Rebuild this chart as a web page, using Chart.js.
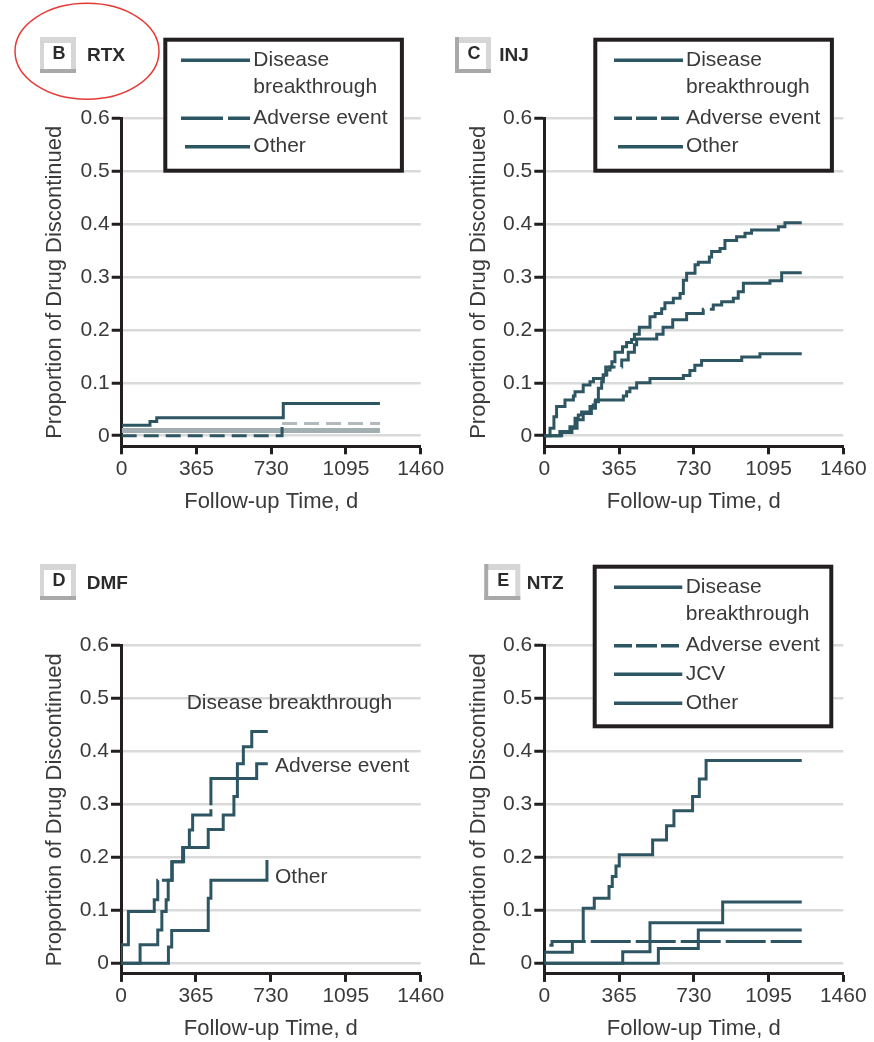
<!DOCTYPE html>
<html>
<head>
<meta charset="utf-8">
<script src="https://cdn.jsdelivr.net/npm/chart.js@4.4.1/dist/chart.umd.min.js"></script>
<style>
  html, body { margin: 0; padding: 0; background: #fff; }
  #page { position: relative; width: 874px; height: 1042px; overflow: hidden; }
  canvas { position: absolute; }
</style>
</head>
<body>
<div id="page">
  <canvas id="rtx" width="447" height="521" style="left:0;top:0"></canvas>
  <canvas id="inj" width="434" height="521" style="left:440px;top:0"></canvas>
  <canvas id="dmf" width="447" height="521" style="left:0;top:521px"></canvas>
  <canvas id="ntz" width="434" height="521" style="left:440px;top:521px"></canvas>
</div>
<script>
// axis ticks shared by all four panels
const xTicks = [0, 365, 730, 1095, 1460];
const yTicks = [0, 0.1, 0.2, 0.3, 0.4, 0.5, 0.6];

// B - RTX
const rtxDbDays = [0, 138, 171, 789, 1261];
const rtxDbProp = [0.020, 0.027, 0.034, 0.061, 0.061];
const rtxAeDays = [0, 783, 1261];
const rtxAeProp = [0, 0.023, 0.023];
const rtxOtherDays = [0, 1261];
const rtxOtherProp = [0.010, 0.010];

// C - INJ
const injDbDays = [0, 28, 47, 60, 101, 142, 150, 190, 223, 240, 288, 300, 330, 345, 382, 402, 426, 440, 464, 516, 541, 573, 589, 630, 663, 679, 695, 736, 752, 806, 817, 858, 882, 939, 980, 1012, 1143, 1175, 1257];
const injDbProp = [0, 0.014, 0.036, 0.055, 0.0675, 0.075, 0.083, 0.096, 0.102, 0.108, 0.115, 0.13, 0.14, 0.158, 0.168, 0.176, 0.182, 0.192, 0.205, 0.225, 0.231, 0.24, 0.2515, 0.26, 0.269, 0.294, 0.307, 0.323, 0.328, 0.338, 0.348, 0.354, 0.369, 0.376, 0.3825, 0.389, 0.395, 0.4026, 0.4026];
const injAeDays = [0, 76, 125, 150, 166, 182, 223, 239, 248, 264, 280, 288, 305, 321, 378, 410, 440, 451, 549, 580, 627, 695, 776, 825, 866, 923, 947, 972, 1102, 1159, 1257];
const injAeProp = [0, 0.008, 0.017, 0.033, 0.039, 0.045, 0.055, 0.058, 0.064, 0.0895, 0.102, 0.115, 0.124, 0.13, 0.143, 0.158, 0.172, 0.183, 0.192, 0.205, 0.219, 0.231, 0.239, 0.247, 0.253, 0.26, 0.272, 0.288, 0.293, 0.308, 0.308];
const injOtherDays = [0, 85, 135, 160, 190, 230, 250, 386, 402, 418, 451, 516, 679, 711, 735, 768, 964, 1053, 1257];
const injOtherProp = [0, 0.006, 0.014, 0.030, 0.042, 0.052, 0.0675, 0.075, 0.083, 0.09, 0.1, 0.108, 0.114, 0.1235, 0.133, 0.142, 0.1486, 0.155, 0.155];

// D - DMF
const dmfDbDays = [0, 93, 179, 199, 220, 230, 247, 300, 425, 498, 550, 567, 596, 637, 715];
const dmfDbProp = [0, 0.035, 0.063, 0.098, 0.12, 0.157, 0.192, 0.219, 0.253, 0.28, 0.315, 0.377, 0.409, 0.438, 0.438];
const dmfAeDays = [0, 0, 36, 162, 179, 250, 305, 333, 349, 438, 661, 715];
const dmfAeProp = [0, 0.035, 0.098, 0.12, 0.157, 0.192, 0.219, 0.252, 0.28, 0.349, 0.377, 0.377];
const dmfOtherDays = [0, 231, 247, 425, 438, 711];
const dmfOtherProp = [0, 0.031, 0.062, 0.123, 0.157, 0.195];

// E - NTZ
const ntzDbDays = [0, 0, 137, 190, 244, 316, 332, 350, 366, 529, 597, 633, 724, 757, 790, 1257];
const ntzDbProp = [0, 0.021, 0.041, 0.104, 0.123, 0.145, 0.164, 0.184, 0.205, 0.233, 0.26, 0.288, 0.315, 0.348, 0.383, 0.383];
const ntzAeDays = [25, 38, 1257];
const ntzAeProp = [0.034, 0.041, 0.041];
const ntzJcvDays = [0, 383, 516, 871, 1257];
const ntzJcvProp = [0, 0.022, 0.0767, 0.116, 0.116];
const ntzOtherDays = [0, 557, 752, 1257];
const ntzOtherProp = [0, 0.028, 0.063, 0.063];

const lineColor = '#2d5562';
const inkColor = '#231f20';
const textColor = '#3a3a3a';
const family = "'Liberation Sans', Arial, sans-serif";

// draws panel badge, legend box, inline notes and the red ellipse
const decorPlugin = {
  id: 'decor',
  afterDraw(chart, args, o) {
    const ctx = chart.ctx;
    ctx.save();
    ctx.translate(-o.ox, -o.oy);

    if (o.ellipse) {
      const e = o.ellipse;
      ctx.beginPath();
      ctx.ellipse(e.cx, e.cy, e.rx, e.ry, 0, 0, Math.PI * 2);
      ctx.strokeStyle = '#e53935';
      ctx.lineWidth = 1.5;
      ctx.stroke();
    }

    // badge with panel letter
    const b = o.badge;
    ctx.fillStyle = '#d6d6d6';
    ctx.fillRect(b.x, b.y, 36, 36);
    ctx.fillStyle = '#a9a9a9';
    ctx.fillRect(b.x, b.y + 32, 36, 4);
    if (b.darkLeft) ctx.fillRect(b.x, b.y, 4, 36);
    ctx.fillStyle = '#fff';
    ctx.fillRect(b.x + 4, b.y + 6, 27, 26);
    ctx.fillStyle = '#2b2b2b';
    ctx.textBaseline = 'middle';
    ctx.textAlign = 'center';
    ctx.font = 'bold 18px ' + family;
    ctx.fillText(b.letter, b.x + 19, b.y + 17);
    ctx.textAlign = 'left';
    ctx.font = 'bold 19px ' + family;
    ctx.fillText(b.name, b.nameX, b.nameY);

    if (o.legend) {
      const L = o.legend;
      ctx.fillStyle = '#fff';
      ctx.fillRect(L.x, L.y, L.w, L.h);
      ctx.strokeStyle = inkColor;
      ctx.lineWidth = 4;
      ctx.strokeRect(L.x + 2, L.y + 2, L.w - 4, L.h - 4);
      ctx.font = '21px ' + family;
      ctx.textAlign = 'left';
      ctx.textBaseline = 'middle';
      L.items.forEach(it => {
        ctx.beginPath();
        ctx.setLineDash(it.dash || []);
        ctx.strokeStyle = lineColor;
        ctx.lineWidth = 3.5;
        ctx.moveTo(it.x0 || L.x0, it.lineY);
        ctx.lineTo(L.x1, it.lineY);
        ctx.stroke();
        ctx.setLineDash([]);
        ctx.fillStyle = textColor;
        it.text.forEach((t, k) => ctx.fillText(t, L.textX, it.ys[k]));
      });
    }

    if (o.notes) {
      ctx.font = '21px ' + family;
      ctx.textAlign = 'left';
      ctx.textBaseline = 'middle';
      ctx.fillStyle = textColor;
      o.notes.forEach(n => ctx.fillText(n.text, n.x, n.y));
    }
    ctx.restore();
  }
};

function series(label, days, prop, extra) {
  return Object.assign({
    label: label,
    data: days.map((d, i) => ({ x: d, y: prop[i] })),
    borderColor: lineColor,
    borderWidth: 3,
    stepped: true,
    pointRadius: 0,
    fill: false,
    borderJoinStyle: 'miter'
  }, extra || {});
}

function makeChart(id, geo, datasets, decor) {
  const canvas = document.getElementById(id);
  const W = canvas.width, H = canvas.height;
  const font = { family: family, size: 21 };
  const titleFont = { family: family, size: 22 };
  return new Chart(canvas, {
    type: 'line',
    data: { datasets: datasets },
    options: {
      responsive: false,
      animation: false,
      devicePixelRatio: 1,
      layout: { autoPadding: false, padding: { left: 0, top: geo.top, right: W - geo.right, bottom: 0 } },
      plugins: { legend: { display: false }, tooltip: { enabled: false }, decor: decor },
      scales: {
        x: {
          type: 'linear', min: 0, max: 1460,
          afterBuildTicks: a => { a.ticks = xTicks.map(v => ({ value: v })); },
          afterFit: s => { s.height = H - geo.bottom; },
          grid: { drawOnChartArea: false, drawTicks: true, tickLength: 8, tickWidth: 3, tickColor: inkColor },
          border: { display: true, color: inkColor, width: 3 },
          ticks: { font: font, color: textColor, padding: 2, maxRotation: 0, autoSkip: false, callback: v => String(v) },
          title: { display: true, text: 'Follow-up Time, d', font: titleFont, color: textColor, padding: { top: 0, bottom: geo.xTitlePad } }
        },
        y: {
          type: 'linear', min: -0.02, max: 0.6,
          afterBuildTicks: a => { a.ticks = yTicks.map(v => ({ value: v })); },
          afterFit: s => { s.width = geo.left; },
          grid: { color: '#dadada', lineWidth: 2.5, tickLength: 10, tickWidth: 3, tickColor: inkColor },
          border: { display: true, color: inkColor, width: 3 },
          ticks: { font: font, color: textColor, padding: 2, callback: v => (v === 0 ? '0' : v.toFixed(1)) },
          title: { display: true, text: 'Proportion of Drug Discontinued', font: titleFont, color: textColor, padding: { top: geo.yTitlePad, bottom: 0 } }
        }
      }
    },
    plugins: [decorPlugin]
  });
}

const legend3 = (x, x0, x1, textX, aeDash) => ({
  x: x, y: 37.7, w: 240.6, h: 135, x0: x0, x1: x1, textX: textX,
  items: [
    { text: ['Disease', 'breakthrough'], ys: [60, 87], lineY: 60.3 },
    { text: ['Adverse event'], ys: [118.3], lineY: 118.3, dash: aeDash },
    { text: ['Other'], ys: [146.7], lineY: 146.7, x0: x0 + 4 }
  ]
});

// B - RTX
makeChart('rtx',
  { left: 121.7, top: 118.3, right: 420.7, bottom: 446.3, xTitlePad: 6.1, yTitlePad: 41.8 },
  [
    series('Disease breakthrough', rtxDbDays, rtxDbProp),
    series('Adverse event', rtxAeDays, rtxAeProp, {
      borderDash: [15, 7],
      segment: { borderColor: c => (c.p0.parsed.x >= 783 ? '#b3babd' : undefined) }
    }),
    series('Other', rtxOtherDays, rtxOtherProp, { borderColor: '#a3aeb2', borderWidth: 5 })
  ],
  {
    ox: 0, oy: 0,
    ellipse: { cx: 87, cy: 51.3, rx: 72, ry: 48 },
    badge: { x: 40, y: 37, letter: 'B', name: 'RTX', nameX: 87, nameY: 56 },
    legend: legend3(163.3, 181, 250, 253.3, [42, 5])
  });

// C - INJ
makeChart('inj',
  { left: 104.3, top: 118.3, right: 403.3, bottom: 446.3, xTitlePad: 6.1, yTitlePad: 25.8 },
  [
    series('Disease breakthrough', injDbDays, injDbProp),
    series('Adverse event', injAeDays, injAeProp, { borderDash: [140, 6] }),
    series('Other', injOtherDays, injOtherProp)
  ],
  {
    ox: 440, oy: 0,
    badge: { x: 455, y: 37, letter: 'C', name: 'INJ', nameX: 499.3, nameY: 56, darkLeft: true },
    legend: legend3(593.3, 614, 683, 686, [18, 4, 21, 4])
  });

// D - DMF
makeChart('dmf',
  { left: 121, top: 124.7, right: 420.7, bottom: 452.9, xTitlePad: 0, yTitlePad: 41.8 },
  [
    series('Disease breakthrough', dmfDbDays, dmfDbProp),
    series('Adverse event', dmfAeDays, dmfAeProp, { borderDash: [120, 4] }),
    series('Other', dmfOtherDays, dmfOtherProp)
  ],
  {
    ox: 0, oy: 521,
    badge: { x: 40, y: 564, letter: 'D', name: 'DMF', nameX: 86.7, nameY: 584 },
    notes: [
      { text: 'Disease breakthrough', x: 186.7, y: 703.3 },
      { text: 'Adverse event', x: 275, y: 766.7 },
      { text: 'Other', x: 275, y: 877.3 }
    ]
  });

// E - NTZ
makeChart('ntz',
  { left: 104.3, top: 124.7, right: 403.3, bottom: 452.9, xTitlePad: 0, yTitlePad: 25.8 },
  [
    series('Disease breakthrough', ntzDbDays, ntzDbProp),
    series('Adverse event', ntzAeDays, ntzAeProp, { borderDash: [40, 5] }),
    series('JCV', ntzJcvDays, ntzJcvProp),
    series('Other', ntzOtherDays, ntzOtherProp)
  ],
  {
    ox: 440, oy: 521,
    badge: { x: 484.3, y: 564, letter: 'E', name: 'NTZ', nameX: 526.7, nameY: 584, darkLeft: true },
    legend: {
      x: 592.7, y: 564.7, w: 240.6, h: 163.6, x0: 614, x1: 682.3, textX: 685.7,
      items: [
        { text: ['Disease', 'breakthrough'], ys: [587.3, 614.3], lineY: 587.3 },
        { text: ['Adverse event'], ys: [645.7], lineY: 645.7, dash: [18, 4, 21, 4] },
        { text: ['JCV'], ys: [674.3], lineY: 674.3 },
        { text: ['Other'], ys: [703.3], lineY: 703.3 }
      ]
    }
  });
</script>
</body>
</html>
